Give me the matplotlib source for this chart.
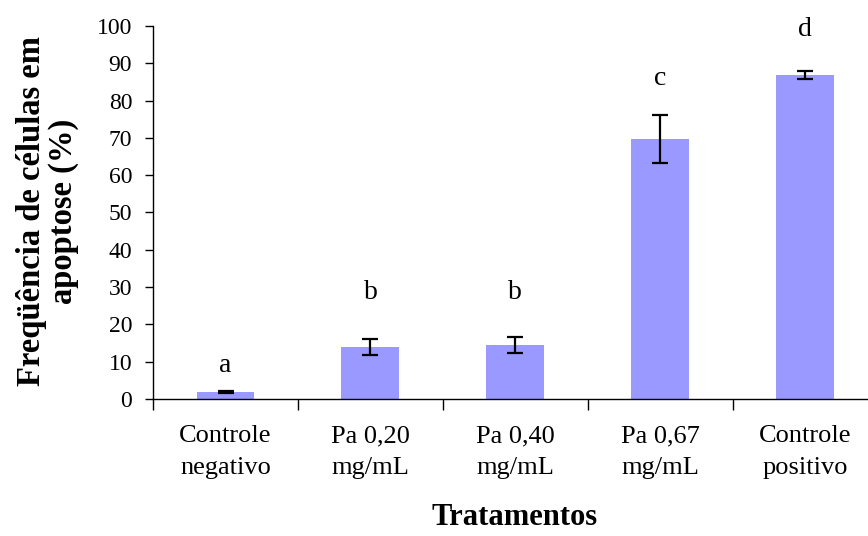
import matplotlib.pyplot as plt
import numpy as np

plt.rcParams['font.family'] = ['Liberation Serif', 'DejaVu Serif']

categorias = ['Controle\nnegativo', 'Pa 0,20\nmg/mL', 'Pa 0,40\nmg/mL', 'Pa 0,67\nmg/mL', 'Controle\npositivo']
apoptose = [1.9, 13.9, 14.4, 69.7, 86.8]
erro = [0.3, 2.2, 2.1, 6.4, 1.1]
letras = ['a', 'b', 'b', 'c', 'd']
letra_y = [9.0, 28.5, 28.5, 86.0, 99.0]

fig = plt.figure(figsize=(8.68, 5.36), dpi=100)
ax = fig.add_axes([0.1763, 0.2556, 0.835, 0.696])

x = np.arange(len(categorias))
ax.bar(x, apoptose, width=0.4, color='#9999FF', zorder=2)
ax.errorbar(x, apoptose, yerr=erro, fmt='none', ecolor='black',
            elinewidth=1.6, capsize=6, capthick=1.6, zorder=3)

for xi, l, ly in zip(x, letras, letra_y):
    ax.text(xi, ly, l, ha='center', va='center', fontsize=20)

ax.set_xlim(-0.5, 4.5)
ax.set_ylim(0, 100)
ax.set_yticks(np.arange(0, 101, 10))
ax.tick_params(axis='y', labelsize=17, length=6, width=1, pad=9)

ax.set_xticks(np.arange(-0.5, 4.6, 1))
ax.set_xticklabels([])
ax.tick_params(axis='x', which='major', length=8, width=1, direction='out')
ax.set_xticks(x, minor=True)
ax.set_xticklabels(categorias, minor=True, fontsize=19, linespacing=1.55)
ax.tick_params(axis='x', which='minor', length=0, pad=19)

for s in ['top', 'right']:
    ax.spines[s].set_visible(False)
ax.spines['left'].set_linewidth(1)
ax.spines['bottom'].set_linewidth(1)

fig.text(0.593, 0.034, 'Tratamentos', ha='center', va='center',
         fontsize=22, fontweight='bold')
fig.text(0.055, 0.606, 'Freqüência de células em\napoptose (%)', ha='center',
         va='center', rotation=90, fontsize=23.5, fontweight='bold',
         linespacing=1.05)

fig.savefig('out.png', dpi=100)
